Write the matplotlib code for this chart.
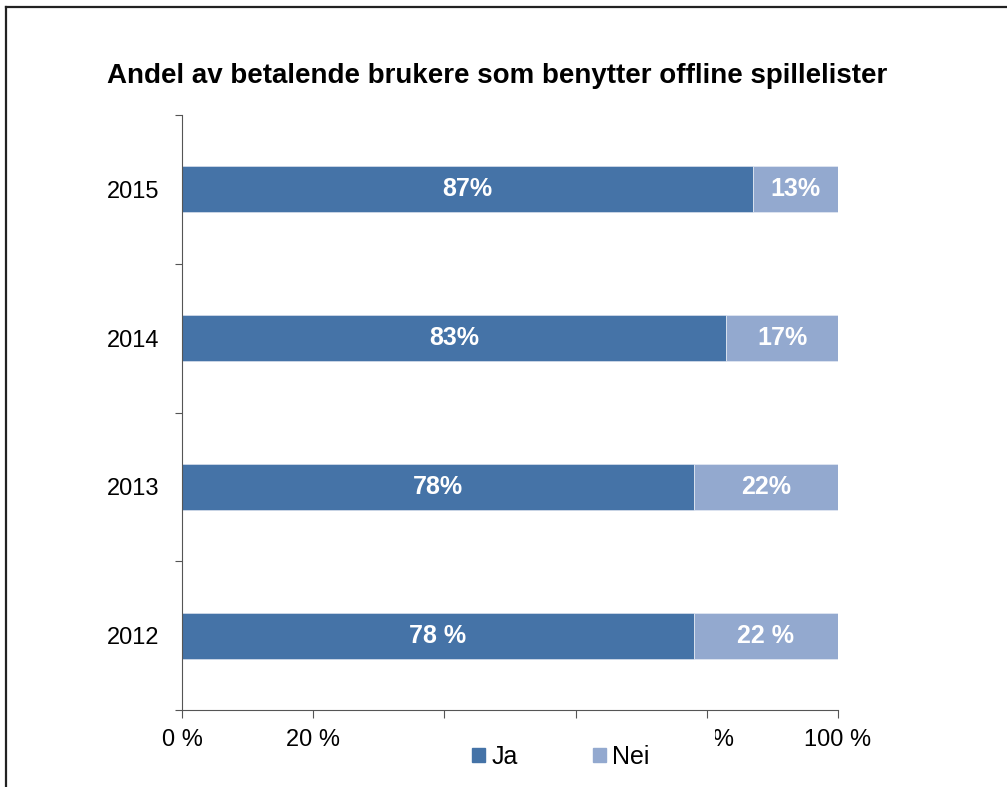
import numpy as np
import matplotlib.pyplot as plt
from matplotlib.patches import Rectangle, Patch
from matplotlib.lines import Line2D

plt.rcParams['font.family'] = ['Liberation Sans', 'DejaVu Sans']

years = ['2012', '2013', '2014', '2015']
ja = [78, 78, 83, 87]
nei = [22, 22, 17, 13]
ja_labels = ['78 %', '78%', '83%', '87%']
nei_labels = ['22 %', '22%', '17%', '13%']
xticks = [0, 20, 40, 60, 80, 100]
xtick_labels = ['0 %', '20 %', '40 %', '60 %', '80 %', '100 %']

c_ja = '#4573a7'
c_nei = '#93a9cf'

fig = plt.figure(figsize=(10.07, 7.87), dpi=100)
ax = fig.add_axes([182 / 1007, 1 - 710 / 787, 656 / 1007, 595 / 787])

y = np.arange(len(years))
ax.barh(y, ja, height=0.31, color=c_ja, edgecolor='#cfd9e8', linewidth=0.6)
ax.barh(y, nei, left=ja, height=0.31, color=c_nei, edgecolor='#dfe6f1', linewidth=0.6)

for i in range(len(years)):
    ax.text(ja[i] / 2, y[i], ja_labels[i], ha='center', va='center',
            color='white', fontsize=18, fontweight='bold')
    ax.text(ja[i] + nei[i] / 2, y[i], nei_labels[i], ha='center', va='center',
            color='white', fontsize=18, fontweight='bold')

ax.set_xlim(0, 100)
ax.set_ylim(-0.5, 3.5)
ax.set_xticks(xticks)
ax.set_xticklabels(xtick_labels, fontsize=17)
ax.set_yticks(np.arange(-0.5, 4, 1))
ax.set_yticklabels([])
ax.set_yticks(y, minor=True)
ax.set_yticklabels(years, minor=True, fontsize=17)
ax.tick_params(axis='y', which='major', length=5, color='#555555')
ax.tick_params(axis='y', which='minor', length=0, pad=16)
ax.tick_params(axis='x', length=6, color='#555555', pad=7.5)
for s in ['top', 'right']:
    ax.spines[s].set_visible(False)
ax.spines['left'].set_color('#555555')
ax.spines['bottom'].set_color('#555555')

fig.text(497 / 1007, 1 - 76 / 787, 'Andel av betalende brukere som benytter offline spillelister',
         ha='center', va='center', fontsize=20, fontweight='bold')

# legend box hides part of the x tick labels, as in the original
fig.patches.append(Rectangle((410 / 1007, 1 - 782 / 787), 305 / 1007, 58 / 787,
                             transform=fig.transFigure, facecolor='white',
                             edgecolor='none', zorder=3))
handles = [Patch(color=c_ja), Patch(color=c_nei)]
fig.legend(handles, ['Ja', 'Nei'], loc='center', bbox_to_anchor=(561 / 1007, 1 - 757 / 787),
           ncol=2, frameon=False, fontsize=18, handlelength=0.52, handleheight=0.52,
           handletextpad=0.25, columnspacing=3.0)

# outer frame (only left and top edges visible)
fig.add_artist(Line2D([6 / 1007, 6 / 1007], [0, 1 - 7 / 787], transform=fig.transFigure,
                      color='#222222', linewidth=1.6))
fig.add_artist(Line2D([6 / 1007, 1], [1 - 7 / 787, 1 - 7 / 787], transform=fig.transFigure,
                      color='#222222', linewidth=1.6))

fig.savefig('out.png', dpi=100)
